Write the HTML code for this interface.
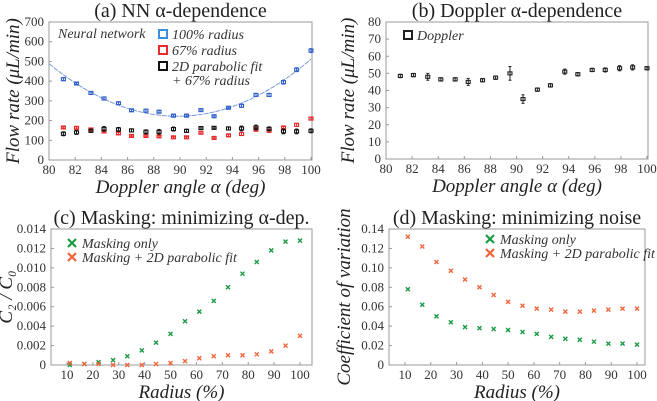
<!DOCTYPE html>
<html><head><meta charset="utf-8"><style>
html,body{margin:0;padding:0;background:#fff;}
svg{display:block;}
svg text{font-family:"Liberation Serif","DejaVu Serif","Times New Roman",serif;}
</style></head><body>
<svg id="c" width="657" height="401" font-family="Liberation Serif, DejaVu Serif, serif"></svg>
<script>
const NS="http://www.w3.org/2000/svg";
const svg=document.getElementById('c');
// ---- data ----
const angles=[81.1,82.1,83.2,84.2,85.3,86.3,87.4,88.4,89.5,90.5,91.6,92.6,93.7,94.7,95.8,96.8,97.9,98.9,100];
const nn100=[410,388,340,312,288,252,250,245,225,225,253,222,265,275,330,330,395,458,555];
const nn100Err=[8,5,8,8,6,6,8,6,6,5,6,5,5,8,8,8,10,10,10];
const nn67=[165,163,155,145,135,122,122,120,115,115,138,112,125,132,155,148,165,178,210];
const nn67Err=[4,5,5,5,5,4,4,4,4,4,5,4,5,8,10,8,5,8,6];
const fit67=[133,140,148,158,155,150,143,143,157,148,162,163,160,160,165,158,145,145,148];
const fit67Err=[10,10,8,12,10,8,10,12,10,8,6,5,8,12,12,10,12,12,10];
const parabolaCoef=[2.78,89.8,222]; // a, vertex x, vertex y
const doppler=[48.5,49,48,46.5,46.5,45,46,47.5,50,35,40.5,43,51,49.5,52,52,53,53.5,53];
const dopplerErr=[1,1,2,1,1,2,1,1,4,2.5,1,1,1.5,1,1,1.2,1.5,1.5,1];
const radii=[11.1,16.7,22.2,27.8,33.3,38.9,44.4,50,55.6,61.1,66.7,72.2,77.8,83.3,88.9,94.4,100];
const c2Mask=[0,0.0001,0.0003,0.0005,0.0009,0.0015,0.0023,0.0032,0.0045,0.0055,0.0066,0.0080,0.0094,0.0106,0.0118,0.0127,0.0128];
const c2Fit=[0.0002,0.0001,0.0001,0,0,0,0.0001,0.0002,0.0004,0.0007,0.0009,0.0010,0.0010,0.0011,0.0014,0.0020,0.0030];
const cvMask=[0.078,0.062,0.050,0.044,0.039,0.038,0.037,0.036,0.034,0.032,0.029,0.027,0.026,0.024,0.022,0.022,0.021];
const cvFit=[0.132,0.122,0.106,0.097,0.088,0.080,0.072,0.065,0.061,0.058,0.057,0.055,0.055,0.056,0.057,0.058,0.058];
const angleTicks=[80,82,84,86,88,90,92,94,96,98,100];
const nnTicks=[0,100,200,300,400,500,600,700];
const dopTicks=[0,10,20,30,40,50,60,70,80];
const radTicks=[10,20,30,40,50,60,70,80,90,100];
const c2Ticks=[0,0.002,0.004,0.006,0.008,0.010,0.012,0.014];
const c2Labels=["0","0.002","0.004","0.006","0.008","0.010","0.012","0.014"];
const cvTicks=[0,0.02,0.04,0.06,0.08,0.10,0.12,0.14];
const cvLabels=["0","0.02","0.04","0.06","0.08","0.10","0.12","0.14"];

function el(t,a,p){const e=document.createElementNS(NS,t);for(const k in a)e.setAttribute(k,a[k]);(p||svg).appendChild(e);return e;}
function txt(s,a,p){a['font-family']='Liberation Serif, DejaVu Serif, serif';const e=el('text',a,p);e.textContent=s;return e;}
function lin(d0,d1,r0,r1){return v=>r0+(v-d0)*(r1-r0)/(d1-d0);}

function panel(name,o){
  const g=el('g',{});
  
  
  const t=txt(o.title,{x:(o.L+o.R)/2,y:o.T-5,'text-anchor':'middle','font-size':20,fill:'#222'},g);
  
  const fr=el('rect',{x:o.L,y:o.T,width:o.R-o.L,height:o.B-o.T,fill:'none',stroke:'#999','stroke-width':1},g);
  
  const xs=lin(o.x0,o.x1,o.xa,o.xb), ys=lin(o.y0,o.y1,o.B,o.T);
  const xg=el('g',{},g);
  o.xt.forEach(v=>{el('line',{x1:xs(v),x2:xs(v),y1:o.B,y2:o.B-3,stroke:'#999'},xg);
    txt(String(v),{x:xs(v),y:o.B+14,'text-anchor':'middle','font-size':13,fill:'#333'},xg);});
  const yg=el('g',{},g);
  o.yt.forEach((v,i)=>{el('line',{x1:o.L,x2:o.L+3,y1:ys(v),y2:ys(v),stroke:'#999'},yg);
    txt(o.yl?o.yl[i]:String(v),{x:o.L-5,y:ys(v)+4,'text-anchor':'end','font-size':13,fill:'#333'},yg);});
  const xt=txt(o.xlabel,{x:(o.L+o.R)/2,y:o.B+33,'text-anchor':'middle','font-size':19,'font-style':'italic',fill:'#222'},g);
  
  const yc=(o.T+o.B)/2;
  const yt=txt(o.ylabel,{x:o.ylx,y:yc,'text-anchor':'middle','font-size':19,'font-style':'italic',fill:'#222',transform:`rotate(-90 ${o.ylx} ${yc})`},g);
  
  return {g,xs,ys};
}
function errSq(p,xv,yv,ev,color,name){
  const g=el('g',{},p.g);
  xv.forEach((x,i)=>{const X=p.xs(x),Y=p.ys(yv[i]),e1=p.ys(yv[i]+ev[i]),e2=p.ys(yv[i]-ev[i]);
    el('line',{x1:X,x2:X,y1:e1,y2:e2,stroke:color,'stroke-width':1},g);
    el('line',{x1:X-1.5,x2:X+1.5,y1:e1,y2:e1,stroke:color},g);
    el('line',{x1:X-1.5,x2:X+1.5,y1:e2,y2:e2,stroke:color},g);
    const r=el('rect',{x:X-2,y:Y-1.5,width:4,height:3,fill:'none',stroke:color,'stroke-width':1.1},g);
    });
}
function crosses(p,xv,yv,color,name){
  const g=el('g',{},p.g);
  xv.forEach((x,i)=>{const X=p.xs(x),Y=p.ys(yv[i]);
    const c=el('path',{d:`M${X-2} ${Y-2}L${X+2} ${Y+2}M${X+2} ${Y-2}L${X-2} ${Y+2}`,stroke:color,'stroke-width':1.4},g);
    });
}
function legX(g,x,y,color,label){
  el('path',{d:`M${x-4} ${y-4}L${x+4} ${y+4}M${x+4} ${y-4}L${x-4} ${y+4}`,stroke:color,'stroke-width':2.2},g);
  txt(label,{x:x+10,y:y+5,'font-size':14,'font-style':'italic',fill:'#333'},g);
}
function legSq(g,x,y,color,label){
  el('rect',{x:x-4,y:y-4,width:8,height:8,fill:'none',stroke:color,'stroke-width':2},g);
  txt(label,{x:x+9,y:y+5,'font-size':14,'font-style':'italic',fill:'#333'},g);
}

// (a)
const pa=panel('panel-a-nn',{title:'(a) NN α-dependence',L:49,R:312,T:22,B:160,x0:80,x1:100,xa:49,xb:311,y0:0,y1:700,xt:angleTicks,yt:nnTicks,xlabel:'Doppler angle α (deg)',ylabel:'Flow rate (μL/min)',ylx:19});
let d='';for(let x=80;x<=100.01;x+=0.25){const y=parabolaCoef[0]*(x-parabolaCoef[1])**2+parabolaCoef[2];d+=(d?'L':'M')+pa.xs(x)+' '+pa.ys(y);}
const fl=el('path',{d,fill:'none',stroke:'#7a9ad8','stroke-width':1,'stroke-dasharray':'5 1'},pa.g);

errSq(pa,angles,nn100,nn100Err,'#2f5fc8','series-100-radius');
errSq(pa,angles,nn67,nn67Err,'#e82a2a','series-67-radius');
errSq(pa,angles,fit67,fit67Err,'#111','series-fit-67-radius');
const lga=el('g',{},pa.g);
txt('Neural network',{x:58,y:38,'font-size':14,'font-style':'italic',fill:'#333'},lga);
legSq(lga,163,34,'#3a8ee0','100% radius');
legSq(lga,163,50,'#e82a2a','67% radius');
legSq(lga,163,66,'#111','2D parabolic fit');
txt('+ 67% radius',{x:172,y:85,'font-size':14,'font-style':'italic',fill:'#333'},lga);

// (b)
const pb=panel('panel-b-doppler',{title:'(b) Doppler α-dependence',L:386,R:648,T:22,B:159,x0:80,x1:100,xa:386,xb:647,y0:0,y1:80,xt:angleTicks,yt:dopTicks,xlabel:'Doppler angle α (deg)',ylabel:'Flow rate (μL/min)',ylx:354});
errSq(pb,angles,doppler,dopplerErr,'#222','series-doppler');
const lgb=el('g',{},pb.g);
legSq(lgb,408,35,'#222','Doppler');

// (c)
const pc=panel('panel-c-masking-alpha',{title:'(c) Masking: minimizing α-dep.',L:51,R:312,T:229,B:365,x0:10,x1:100,xa:67,xb:300,y0:0,y1:0.014,xt:radTicks,yt:c2Ticks,yl:c2Labels,xlabel:'Radius (%)',ylabel:'C₂ / C₀',ylx:12});
crosses(pc,radii,c2Mask,'#1a9a44','series-masking-only');
crosses(pc,radii,c2Fit,'#f2663c','series-masking-fit');
const lgc=el('g',{},pc.g);
legX(lgc,72,243,'#1a9a44','Masking only');
legX(lgc,72,257,'#f2663c','Masking + 2D parabolic fit');

// (d)
const pd=panel('panel-d-masking-noise',{title:'(d) Masking: minimizing noise',L:389,R:645,T:229,B:365,x0:10,x1:100,xa:405,xb:637,y0:0,y1:0.14,xt:radTicks,yt:cvTicks,yl:cvLabels,xlabel:'Radius (%)',ylabel:'Coefficient of variation',ylx:350});
crosses(pd,radii,cvMask,'#1a9a44','series-masking-only');
crosses(pd,radii,cvFit,'#f2663c','series-masking-fit');
const lgd=el('g',{},pd.g);
legX(lgd,490,239,'#1a9a44','Masking only');
legX(lgd,490,253,'#f2663c','Masking + 2D parabolic fit');
</script>
</body></html>
